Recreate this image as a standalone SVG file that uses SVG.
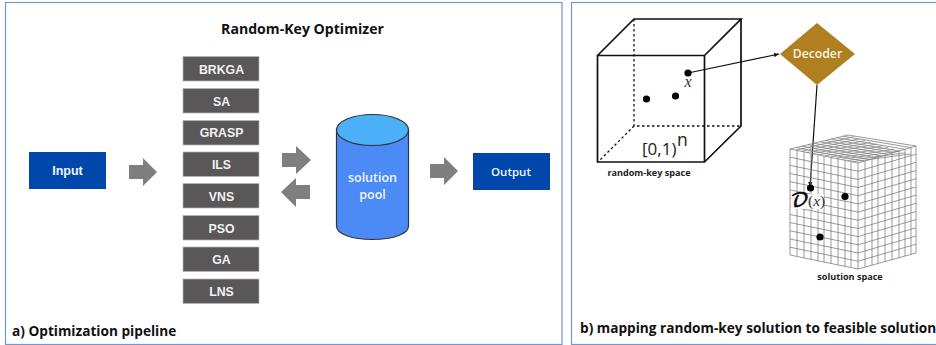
<svg xmlns="http://www.w3.org/2000/svg" width="936" height="345" viewBox="0 0 936 345">
<style>
text{font-family:"Open Sans","Noto Sans",sans-serif}
.panel{fill:#fff;stroke:#6f98d0;stroke-width:1.2}
.algo rect{fill:#595757;stroke:#b8b8b8;stroke-width:.7}
.algo text{font-family:"Liberation Sans",Arial,sans-serif;font-weight:700;font-size:12.3px;fill:#f2f2f2;text-anchor:middle}
.arrow{fill:#7f7f7f}
.io rect{fill:#0047ab}
.io text{font-weight:600;font-size:11.5px;fill:#f2f5fb;text-anchor:middle}
.cube{fill:none;stroke:#111;stroke-width:1.7}
.dash{fill:none;stroke:#111;stroke-width:1.3;stroke-dasharray:2.5 2.5}
.dot{fill:#000}
.grid{fill:none;stroke:#808080;stroke-width:.8}
.cap{font-weight:700;font-size:13.65px;fill:#111}
.small{font-weight:700;font-size:9.1px;fill:#222;text-anchor:middle}
.link{fill:none;stroke:#111;stroke-width:1.2}
.pooltext{font-weight:600;font-size:12.5px;fill:#f2f5fb;text-anchor:middle}
</style>
<defs><marker id="ah" markerWidth="6" markerHeight="6" refX="5" refY="3" orient="auto" markerUnits="userSpaceOnUse"><path d="M0 .8L5 3L0 5.2z" fill="#111"/></marker></defs>
<rect class="panel" x="5.5" y="2.5" width="556.5" height="342"/>
<rect class="panel" x="571.5" y="2.5" width="370" height="342"/>
<text x="302.500" y="34" text-anchor="middle" style="font-weight:700;font-size:14.1px;fill:#111">Random-Key Optimizer</text>
<g id="input" class="io"><rect x="29" y="152" width="77" height="37"/><text x="67.500" y="174.500" style="font-family:'Liberation Sans',sans-serif;font-size:12.5px;font-weight:700">Input</text></g>
<g id="output" class="io"><rect x="473" y="153" width="77" height="37"/><text x="511" y="176">Output</text></g>
<g id="a1" class="algo"><rect x="183" y="56.500" width="76" height="24.500"/><text x="221.500" y="73.500">BRKGA</text></g>
<g id="a2" class="algo"><rect x="183" y="88.500" width="76" height="24.500"/><text x="221.500" y="105.500">SA</text></g>
<g id="a3" class="algo"><rect x="183" y="120.500" width="76" height="24.500"/><text x="221.500" y="137">GRASP</text></g>
<g id="a4" class="algo"><rect x="183" y="152" width="76" height="24.500"/><text x="221.500" y="169">ILS</text></g>
<g id="a5" class="algo"><rect x="183" y="183.500" width="76" height="24.500"/><text x="221.500" y="200.500">VNS</text></g>
<g id="a6" class="algo"><rect x="183" y="215.500" width="76" height="24.500"/><text x="221.500" y="232.500">PSO</text></g>
<g id="a7" class="algo"><rect x="183" y="247" width="76" height="24.500"/><text x="221.500" y="264">GA</text></g>
<g id="a8" class="algo"><rect x="183" y="279" width="76" height="24.500"/><text x="221.500" y="296">LNS</text></g>
<g id="pool"><path d="M336.500 130V226C336.500 234 352 239.500 372.500 239.500S408.500 234 408.500 226V130z" fill="#4c8bf5" stroke="#333" stroke-width="1.2"/><ellipse cx="372.500" cy="130" rx="36" ry="15.500" fill="#4bb0f7" stroke="#333" stroke-width="1.2"/><text class="pooltext" x="372.500" y="181.500">solution</text><text class="pooltext" x="372.500" y="198.500">pool</text></g>
<g id="connectors">
<path class="arrow" d="M129 165H143V158L157 172L143 186V179H129z"/>
<path class="arrow" d="M282 153H296V146L311 160L296 174V167H282z"/>
<path class="arrow" d="M310 185H296V178L281 192L296 207V199H310z"/>
<path class="arrow" d="M430 164H444V157L458 171L444 185V178H430z"/>
<path class="link" d="M688 73L779 54" marker-end="url(#ah)"/>
<path class="link" d="M817 85L810 187" marker-end="url(#ah)"/>
</g>
<g id="cube">
<path class="dash" d="M634 19V126H741M634 126L598 162"/>
<path class="cube" d="M597.500 55.500H704.500V162H597.500zM597.500 55.500L634 19H741L704.500 55.500M741 19V126L704.500 162"/>
<circle class="dot" cx="688" cy="73" r="3.600"/><circle class="dot" cx="646.500" cy="99" r="3.600"/><circle class="dot" cx="675.500" cy="96" r="3.600"/>
<text x="688" y="87" text-anchor="middle" style="font-family:'Liberation Serif',serif;font-style:italic;font-size:16px;fill:#333">x</text>
<text x="642" y="155" style="font-size:17px;fill:#222">[0,1)</text><text x="677" y="146" style="font-size:17.500px;fill:#222">n</text>
<text class="small" x="649" y="176">random-key space</text>
</g>
<g id="decoder"><path d="M817 23L855 54L817 85L780 54z" fill="#b08020"/><text x="817.500" y="58" text-anchor="middle" style="font-weight:600;font-size:12.200px;fill:#f8f3e6">Decoder</text></g>
<g id="grid-cube">
<path class="grid" d="M790 149L858 163V269L790 255zM858 163L916 146V253L858 269M790 149L848 135L916 146
M797 150.400V256.400M804 151.900V257.900M811 153.300V259.300M818 154.800V260.800M824 156V262M831 157.500V263.500M838 158.900V264.900M845 160.300V266.300M851 161.600V267.600
M865 161V267M872 159V265M878 157.100V264M885 155.100V262M892 153V260M899 151V258M905 149.200V256M911 147.500V254.500
M790 157.200L858 171.200L916 154.200M790 165.400L858 179.400L916 162.400M790 173.500L858 187.500L916 170.500M790 181.700L858 195.700L916 178.700M790 189.900L858 203.900L916 186.900M790 198.100L858 212.100L916 195.100M790 206.300L858 220.300L916 203.300M790 214.500L858 228.500L916 211.500M790 222.600L858 236.600L916 219.600M790 230.800L858 244.800L916 227.800M790 239L858 253L916 236M790 247.200L858 261.200L916 244.200
M796 147.500L864 161.300M802 146.100L870 159.600M808 144.600L876 157.900M814 143.200L882 156.200M820 141.800L888 154.400M825 140.500L894 152.600M831 139.100L899 151M837 137.700L905 149.300M843 136.200L911 147.600
M795.700 150.200L853.700 136.800M801.500 151.300L859.500 138.700M807.200 152.500L865.200 140.500M813 153.600L871 142.200M818.800 154.700L876.800 144M824.500 155.900L882.500 145.800M830.300 157L888.300 147.500M836 158.200L894 149.300M841.800 159.300L899.800 151M847.600 160.500L905.600 152.800M852.800 161.700L910.800 154"/>
<path d="M791 194H824V209H791z" fill="#fff" fill-opacity=".85"/>
<circle class="dot" cx="810.500" cy="188" r="3.600"/><circle class="dot" cx="845" cy="196.500" r="3.600"/><circle class="dot" cx="820" cy="237" r="3.600"/>
<text x="790.500" y="207" style="font-family:'DejaVu Math TeX Gyre','DejaVu Serif',serif;font-size:20px;font-weight:700;fill:#111">𝒟</text>
<text x="808" y="206" style="font-family:'Liberation Serif',serif;font-size:15.500px;fill:#333">(<tspan font-style="italic">x</tspan>)</text>
<text class="small" x="850" y="280">solution space</text>
</g>
<text class="cap" x="12" y="335.500">a) Optimization pipeline</text>
<text class="cap" x="580" y="333">b) mapping random-key solution to feasible solution</text>
</svg>
